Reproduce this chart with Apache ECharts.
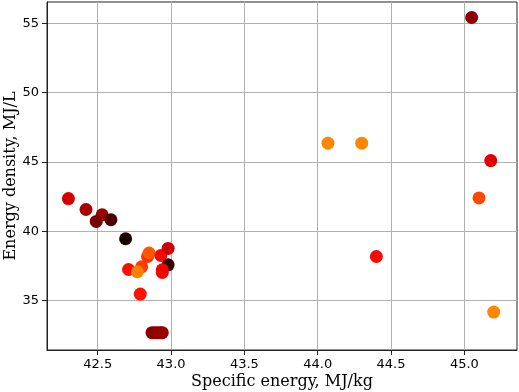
<!DOCTYPE html>
<html>
<head>
<meta charset="utf-8">
<script src="https://cdn.jsdelivr.net/npm/echarts@6/dist/echarts.min.js"></script>
<style>
  html, body { margin: 0; padding: 0; background: #fff; }
  #chart { width: 519px; height: 392px; }
</style>
</head>
<body>
<div id="chart"></div>
<script>
// specific energy (MJ/kg), energy density (MJ/L), colour value (0..1 on "hot" map)
const specificEnergy = [
  45.05, 44.07, 44.30, 45.18, 45.10, 44.40, 45.20,
  42.30, 42.42, 42.53, 42.49, 42.59, 42.69, 42.71, 42.80, 42.77, 42.79,
  42.84, 42.85, 42.93, 42.98, 42.98, 42.94, 42.94,
  42.87, 42.89, 42.91, 42.93, 42.94
];
const energyDensity = [
  55.42, 46.35, 46.35, 45.09, 42.40, 38.17, 34.16,
  42.35, 41.56, 41.18, 40.70, 40.82, 39.45, 37.23, 37.43, 37.07, 35.46,
  38.17, 38.42, 38.24, 38.75, 37.57, 37.21, 37.02,
  32.67, 32.67, 32.67, 32.67, 32.67
];
const colorValue = [
  0.20, 0.57, 0.57, 0.33, 0.48, 0.38, 0.57,
  0.31, 0.24, 0.22, 0.17, 0.10, 0.02, 0.39, 0.46, 0.56, 0.40,
  0.44, 0.50, 0.38, 0.30, 0.07, 0.37, 0.36,
  0.20, 0.20, 0.21, 0.20, 0.22
];
const xTicks = [42.5, 43.0, 43.5, 44.0, 44.5, 45.0];
const yTicks = [35, 40, 45, 50, 55];

const points = specificEnergy.map((x, i) => [x, energyDensity[i], colorValue[i]]);

const axisCommon = {
  axisLine: { show: true, lineStyle: { color: '#222', width: 1 } },
  axisTick: { show: true, length: 5, lineStyle: { color: '#222' } },
  splitLine: { show: true, lineStyle: { color: '#b0b0b0', width: 1 } },
  nameLocation: 'middle',
  nameMoveOverlap: false,
  nameTextStyle: { fontFamily: 'DejaVu Serif', fontSize: 16, color: '#000' }
};

const chart = echarts.init(document.getElementById('chart'));
chart.setOption({
  animation: false,
  backgroundColor: '#fff',
  grid: {
    left: 47, right: 2, top: 2, bottom: 42, outerBoundsMode: 'none',
    show: true, borderColor: '#222', borderWidth: 1
  },
  visualMap: {
    show: false, type: 'continuous', dimension: 2, min: 0, max: 0.746,
    // matplotlib "hot" colormap (black -> red -> yellow)
    inRange: { color: ['#0b0000', '#ff0000', '#ffff00'] }
  },
  xAxis: Object.assign({}, axisCommon, {
    type: 'value', min: 42.154, max: 45.359,
    name: 'Specific energy, MJ/kg', nameGap: 24,
    axisTick: Object.assign({}, axisCommon.axisTick, { customValues: xTicks }),
    axisLabel: {
      customValues: xTicks, fontFamily: 'DejaVu Sans', fontSize: 13, color: '#000', margin: 8,
      formatter: v => v.toFixed(1)
    }
  }),
  yAxis: Object.assign({}, axisCommon, {
    type: 'value', min: 31.42, max: 56.54,
    name: 'Energy density, MJ/L', nameGap: 28,
    axisTick: Object.assign({}, axisCommon.axisTick, { customValues: yTicks }),
    axisLabel: {
      customValues: yTicks, fontFamily: 'DejaVu Sans', fontSize: 13, color: '#000', margin: 8
    }
  }),
  series: [{
    type: 'scatter',
    symbolSize: 13,
    data: points,
    itemStyle: { opacity: 1 }
  }]
});
</script>
</body>
</html>
